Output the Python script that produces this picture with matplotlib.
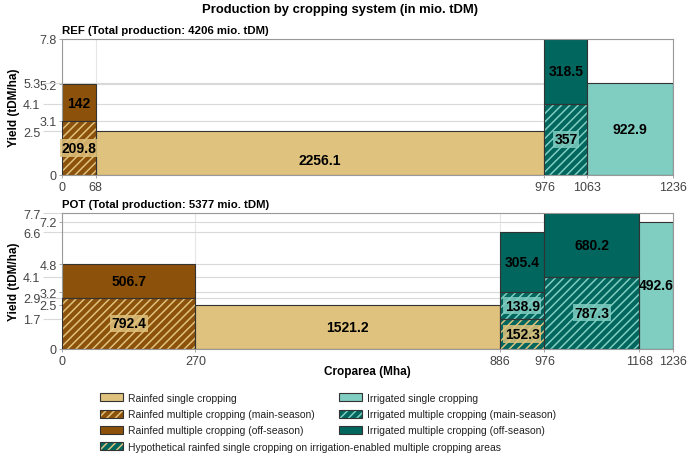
import matplotlib
matplotlib.use("Agg")
import matplotlib.pyplot as plt
from matplotlib.patches import Patch
from matplotlib.legend_handler import HandlerTuple

plt.rcParams['font.family'] = ['Liberation Sans', 'DejaVu Sans']
plt.rcParams['hatch.linewidth'] = 1.1

# ---------------- data ----------------
TITLE = "Production by cropping system (in mio. tDM)"
REF_title = "REF (Total production: 4206 mio. tDM)"
POT_title = "POT (Total production: 5377 mio. tDM)"

REF_xticks = [0, 68, 976, 1063, 1236]
REF_yticks_major = [0, 3.1, 5.2, 7.8]
REF_yticks_minor = [2.5, 4.1, 5.3]
REF_x0 = [0, 0, 68, 976, 976, 1063]
REF_x1 = [68, 68, 976, 1063, 1063, 1236]
REF_y0 = [0, 3.1, 0, 0, 4.1, 0]
REF_y1 = [3.1, 5.2, 2.5, 4.1, 7.8, 5.3]
REF_cat = ['rain_main', 'rain_off', 'rain_single', 'irr_main', 'irr_off', 'irr_single']
REF_prod = [209.8, 142, 2256.1, 357, 318.5, 922.9]

POT_xticks = [0, 270, 886, 976, 1168, 1236]
POT_yticks_major = [0, 2.5, 3.2, 4.8, 7.2]
POT_yticks_minor = [1.7, 2.9, 4.1, 6.6, 7.7]
POT_x0 = [0, 0, 270, 886, 886, 886, 976, 976, 1168]
POT_x1 = [270, 270, 886, 976, 976, 976, 1168, 1168, 1236]
POT_y0 = [0, 2.9, 0, 0, 1.7, 3.2, 0, 4.1, 0]
POT_y1 = [2.9, 4.8, 2.5, 1.7, 3.2, 6.6, 4.1, 7.7, 7.2]
POT_cat = ['rain_main', 'rain_off', 'rain_single', 'hypo', 'irr_main', 'irr_off',
           'irr_main', 'irr_off', 'irr_single']
POT_prod = [792.4, 506.7, 1521.2, 152.3, 138.9, 305.4, 787.3, 680.2, 492.6]

legend_cats = ['rain_single', 'rain_main', 'rain_off', 'hypo',
               'irr_single', 'irr_main', 'irr_off']
legend_labels = {
    'rain_single': "Rainfed single cropping",
    'rain_main': "Rainfed multiple cropping (main-season)",
    'rain_off': "Rainfed multiple cropping (off-season)",
    'irr_single': "Irrigated single cropping",
    'irr_main': "Irrigated multiple cropping (main-season)",
    'irr_off': "Irrigated multiple cropping (off-season)",
    'hypo': "Hypothetical rainfed single cropping on irrigation-enabled multiple cropping areas",
}

# ---------------- styles ----------------
TAN, BROWN, LTEAL, DTEAL = '#dfc27d', '#8c510a', '#80cdc1', '#01665e'
STYLE = {  # facecolor, hatch colour (None = plain)
    'rain_single': (TAN, None),
    'rain_main': (BROWN, TAN),
    'rain_off': (BROWN, None),
    'irr_single': (LTEAL, None),
    'irr_main': (DTEAL, LTEAL),
    'irr_off': (DTEAL, None),
    'hypo': (DTEAL, TAN),
}
EDGE = '#333333'
GRID = '#d9d9d9'
TICKC = '#444444'
label_y_override = {('REF', 2): 0.85}

W, H = 690, 464
fig = plt.figure(figsize=(W / 100, H / 100), dpi=100)


def ax_rect(l, t, r, b):
    return [l / W, 1 - b / H, (r - l) / W, (b - t) / H]


def draw_panel(ax, name, x0, x1, y0, y1, cats, prods, xticks, ymaj, ymin, title):
    for i, (a, b, c, d, cat, p) in enumerate(zip(x0, x1, y0, y1, cats, prods)):
        fc, hc = STYLE[cat]
        if hc is None:
            ax.bar(a, d - c, width=b - a, bottom=c, align='edge', facecolor=fc,
                   edgecolor=EDGE, linewidth=0.8, zorder=2)
        else:
            ax.bar(a, d - c, width=b - a, bottom=c, align='edge', facecolor=fc,
                   edgecolor=hc, hatch='////', linewidth=0, zorder=2)
            ax.bar(a, d - c, width=b - a, bottom=c, align='edge', fill=False,
                   edgecolor=EDGE, linewidth=0.8, zorder=3)
        ly = label_y_override.get((name, i), (c + d) / 2)
        kw = dict(ha='center', va='center', fontsize=10, fontweight='bold',
                  color='black', zorder=5)
        if hc is not None:
            kw['bbox'] = dict(boxstyle='square,pad=0.12', facecolor=hc,
                              edgecolor='none', alpha=0.85)
        ax.text((a + b) / 2, ly, f"{p:g}", **kw)

    ax.set_xlim(0, xticks[-1])
    ax.set_ylim(0, max(ymaj + ymin))
    ax.set_xticks(xticks)
    ax.set_xticklabels([str(v) for v in xticks])
    ax.set_yticks(ymaj)
    ax.set_yticklabels([f"{v:g}" for v in ymaj])
    ax.set_yticks(ymin, minor=True)
    ax.set_yticklabels([f"{v:g}" for v in ymin], minor=True)
    ax.tick_params(axis='y', which='major', length=2.5, pad=1.5, color='#999999',
                   labelcolor=TICKC, labelsize=9, width=0.6)
    ax.tick_params(axis='y', which='minor', length=14, pad=1.5, color=GRID,
                   labelcolor=TICKC, labelsize=9, width=0.8)
    ax.tick_params(axis='x', which='major', length=2, pad=2, color='#999999',
                   labelcolor=TICKC, labelsize=9, width=0.6)
    ax.grid(True, which='both', axis='y', color=GRID, linewidth=0.8, zorder=0)
    ax.grid(True, which='major', axis='x', color='#e6e6e6', linewidth=0.8, zorder=0)
    ax.set_axisbelow(True)
    for s in ax.spines.values():
        s.set_color('#999999')
        s.set_linewidth(0.8)
    ax.set_title(title, loc='left', fontsize=8.2, fontweight='bold', pad=4)


ax1 = fig.add_axes(ax_rect(62, 40, 673, 176))
draw_panel(ax1, 'REF', REF_x0, REF_x1, REF_y0, REF_y1, REF_cat, REF_prod,
           REF_xticks, REF_yticks_major, REF_yticks_minor, REF_title)
ax2 = fig.add_axes(ax_rect(62, 214, 673, 350))
draw_panel(ax2, 'POT', POT_x0, POT_x1, POT_y0, POT_y1, POT_cat, POT_prod,
           POT_xticks, POT_yticks_major, POT_yticks_minor, POT_title)

fig.text(340 / W, 1 - 10 / H, TITLE, ha='center', va='center', fontsize=9.4,
         fontweight='bold')
for yc in (108, 282):
    fig.text(14 / W, 1 - yc / H, "Yield (tDM/ha)", rotation=90, ha='center',
             va='center', fontsize=8.5, fontweight='bold')
fig.text(367 / W, 1 - 372 / H, "Croparea (Mha)", ha='center', va='center',
         fontsize=8.5, fontweight='bold')


def handle(cat):
    fc, hc = STYLE[cat]
    if hc is None:
        return Patch(facecolor=fc, edgecolor=EDGE, linewidth=0.8)
    return (Patch(facecolor=fc, edgecolor=hc, hatch='////', linewidth=0),
            Patch(fill=False, edgecolor=EDGE, linewidth=0.8))


def make_legend(cats, x):
    lg = fig.legend([handle(c) for c in cats], [legend_labels[c] for c in cats],
                    loc='upper left', bbox_to_anchor=(x / W, 1 - 394 / H),
                    frameon=False, fontsize=7.5, borderpad=0, borderaxespad=0,
                    handlelength=2.2, handleheight=0.8, handletextpad=0.5,
                    labelspacing=0.6, handler_map={tuple: HandlerTuple(ndivide=1, pad=0)})
    for t in lg.get_texts():
        t.set_color('#222222')
    return lg


lg1 = make_legend([c for c in legend_cats if not c.startswith('irr')], 100)
lg2 = make_legend([c for c in legend_cats if c.startswith('irr')], 339)

fig.savefig("out.png", dpi=100)
